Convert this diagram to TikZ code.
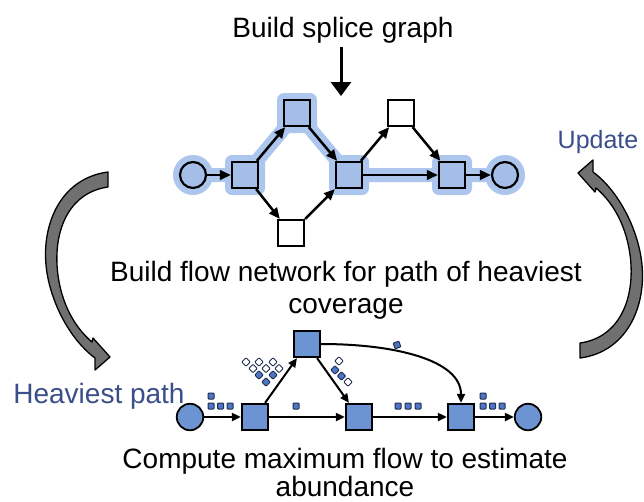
\documentclass[tikz,border=0pt]{standalone}
\usepackage{fontspec}
\setmainfont{Liberation Sans}
\usetikzlibrary{arrows.meta,calc}

\definecolor{glow}{RGB}{172,198,238}
\definecolor{pathfill}{RGB}{164,190,232}
\definecolor{netfill}{RGB}{108,148,210}
\definecolor{tokfill}{RGB}{78,118,196}
\definecolor{tokline}{RGB}{30,45,80}
\definecolor{labelblue}{RGB}{58,78,138}
\definecolor{arrowgray}{RGB}{112,112,112}

\tikzset{
  bendarrow/.pic={
    \filldraw[fill=arrowgray, draw=black, line width=1.3pt, line join=round]
      (108,172) .. controls (62,178) and (42,222) .. (46,265)
      .. controls (49,298) and (68,338) .. (95,358)
      -- (95,370) -- (110,357) -- (93,338) -- (92,342)
      .. controls (72,325) and (59,298) .. (57,265)
      .. controls (55,225) and (72,192) .. (108,187) -- cycle;
  }
}

\begin{document}
\begin{tikzpicture}[x=1pt,y=-1pt,
  lbl/.style={font=\fontsize{28}{33}\selectfont, inner sep=0pt, anchor=base},
  bluelbl/.style={lbl, text=labelblue},
  hsq/.style={rectangle, draw=black, line width=2.2pt, minimum size=26pt, inner sep=0pt, fill=pathfill},
  wsq/.style={hsq, fill=white},
  hcirc/.style={circle, draw=black, line width=2.2pt, minimum size=26pt, inner sep=0pt, fill=pathfill},
  halo/.style={rectangle, rounded corners=7pt, fill=glow, minimum size=40pt, inner sep=0pt},
  halocirc/.style={circle, fill=glow, minimum size=40pt, inner sep=0pt},
  gedge/.style={-{Triangle[length=11pt,width=9.5pt]}, line width=2.5pt},
  nsq/.style={rectangle, draw=black, line width=1.8pt, minimum size=26.5pt, inner sep=0pt, fill=netfill},
  ncirc/.style={circle, draw=black, line width=1.8pt, minimum size=26.5pt, inner sep=0pt, fill=netfill},
  nedge/.style={-{Triangle[length=9pt,width=8pt]}, line width=2pt},
  tok/.style={rectangle, draw=tokline, line width=1pt, minimum size=6pt, inner sep=0pt, fill=tokfill, rounded corners=0.8pt},
  wtok/.style={tok, fill=white},
]
\useasboundingbox[fill=white] (0,0) rectangle (644,501);

% ---------- splice graph ----------
\coordinate (dtop) at (341,47);
\coordinate (dtip) at (341,96);
\draw[line width=3pt, -{Triangle[length=14pt,width=20pt]}] (dtop) -- (dtip);

% halo along the heaviest path
\draw[glow, line width=14pt, line join=round, line cap=round]
  (193,175) -- (245,175) -- (297,113) -- (349,175) -- (452,175) -- (505,175);
\node[halocirc] (gL) at (193,175) {};
\node[halo] (gA) at (245,175) {};
\node[halo] (gB) at (297,113) {};
\node[halo] (gD) at (349,175) {};
\node[halo] (gF) at (452,175) {};
\node[halocirc] (gR) at (505,175) {};

\node[hcirc] (sL) at (193,175) {};
\node[hsq] (A) at (245,175) {};
\node[hsq] (B) at (297,113) {};
\node[wsq] (C) at (291,233) {};
\node[hsq] (D) at (349,175) {};
\node[wsq] (E) at (401,113) {};
\node[hsq] (F) at (452,175) {};
\node[hcirc] (sR) at (505,175) {};

\draw[gedge] (sL) -- (A);
\draw[gedge] (A) -- (B);
\draw[gedge] (A) -- (C);
\draw[gedge] (B) -- (D);
\draw[gedge] (C) -- (D);
\draw[gedge] (D) -- (E);
\draw[gedge] (E) -- (F);
\draw[gedge] (D) -- (F);
\draw[gedge] (F) -- (sR);

% ---------- captions ----------
\node[lbl] (t1) at (343,37) {Build splice graph};
\node[lbl] (t2) at (346,281) {Build flow network for path of heaviest};
\node[lbl] (t3) at (346,313) {coverage};
\node[lbl] (t4) at (345,468) {Compute maximum flow to estimate};
\node[lbl] (t5) at (345,496) {abundance};
\node[bluelbl] (t6) at (99,403) {Heaviest path};
\node[bluelbl, font=\fontsize{25}{30}\selectfont] (t7) at (598,148) {Update};

% ---------- loop arrows ----------
\pic at (0,0) {bendarrow};
\pic[rotate=180] at (688,530) {bendarrow};

% ---------- flow network ----------
\node[ncirc] (nL) at (190,417) {};
\node[nsq] (G) at (255,417) {};
\node[nsq] (H) at (307,344) {};
\node[nsq] (I) at (359,417) {};
\node[nsq] (J) at (461,417) {};
\node[ncirc] (nR) at (528,417) {};

\draw[nedge] (nL) -- (G);
\draw[nedge] (G) -- (H);
\draw[nedge] (G) -- (I);
\draw[nedge] (H) -- (I);
\draw[nedge] (I) -- (J);
\draw[nedge] (J) -- (nR);
\draw[nedge] (H.east) .. controls (395,344) and (461,360) .. (J.north);

% flow units on the edges
\node[tok] (u1) at (211,396) {};
\foreach \x [count=\i] in {211,220.5,230} \node[tok] (ua\i) at (\x,406) {};
\node[tok] (u2) at (296,406) {};
\foreach \x [count=\i] in {398,408,418} \node[tok] (ub\i) at (\x,406) {};
\node[tok] (u3) at (483,396) {};
\foreach \x [count=\i] in {483,492.5,502} \node[tok] (uc\i) at (\x,406) {};
\node[tok, rotate=20] (u4) at (397,345) {};

% stack of units beside G -> H
\foreach \x [count=\i] in {246,259,273} \node[wtok, rotate=45] (wa\i) at (\x,362) {};
\foreach \x [count=\i] in {253,266,279} \node[wtok, rotate=45] (wb\i) at (\x,368.5) {};
\foreach \x [count=\i] in {259,273} \node[tok, rotate=45] (fa\i) at (\x,375) {};
\node[tok, rotate=45] (fb) at (266,382) {};

% stack of units beside H -> I
\node[wtok, rotate=45] (wc1) at (339,361) {};
\node[tok, rotate=45] (fc1) at (335,370) {};
\node[tok, rotate=45] (fc2) at (341.5,376) {};
\node[wtok, rotate=45] (wc2) at (348,382) {};
\end{tikzpicture}
\end{document}
